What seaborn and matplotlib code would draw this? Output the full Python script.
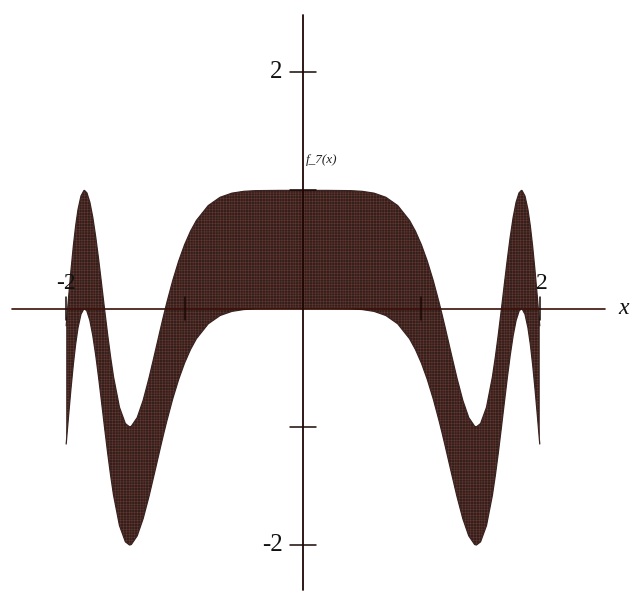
import matplotlib
matplotlib.use("Agg")
import matplotlib.pyplot as plt
import numpy as np
import pandas as pd
import seaborn as sns

# Right half of f_7 (the curve is symmetric about x = 0)
x_half = [0.0, 0.2, 0.4, 0.5, 0.6, 0.7, 0.8, 0.9, 0.95, 1.0, 1.05, 1.1, 1.15,
          1.175, 1.2, 1.25, 1.3, 1.35, 1.4, 1.45, 1.465, 1.5, 1.55, 1.6, 1.625,
          1.65, 1.675, 1.7, 1.725, 1.75, 1.775, 1.8, 1.825, 1.845, 1.85, 1.875,
          1.9, 1.92, 1.94, 1.96, 1.98, 2.0]
upper_half = [1.0, 1.0, 0.998, 0.9922, 0.9768, 0.9418, 0.8718, 0.7458, 0.6544,
              0.5403, 0.4015, 0.2375, 0.0499, -0.0514, -0.1566, -0.3731,
              -0.5861, -0.7768, -0.9220, -0.9957, -1.0, -0.9729, -0.8352,
              -0.5781, -0.4090, -0.2185, -0.0130, 0.1993, 0.4083, 0.6028,
              0.7707, 0.8999, 0.9791, 1.0, 0.9988, 0.9528, 0.8387, 0.7005,
              0.5249, 0.3188, 0.0915, -0.1455]
lower_half = [0.0, 0.0, -0.002, -0.0078, -0.0232, -0.0582, -0.1282, -0.2542,
              -0.3456, -0.4597, -0.5985, -0.7625, -0.9501, -1.0514, -1.1566,
              -1.3731, -1.5861, -1.7768, -1.9220, -1.9957, -2.0, -1.9729,
              -1.8352, -1.5781, -1.4090, -1.2185, -1.0130, -0.8007, -0.5917,
              -0.3972, -0.2293, -0.1001, -0.0209, 0.0, -0.0012, -0.0472,
              -0.1613, -0.2995, -0.4751, -0.6812, -0.9085, -1.1455]

tick_values = [-2, -1, 1, 2]
labelled_ticks = [-2, 2]
curve_label = "f_7(x)"
axis_label = "x"

# Mirror the half curve onto the full domain [-2, 2]
xh = np.array(x_half)
x_full = np.concatenate([-xh[::-1], xh[1:]])
up_full = np.concatenate([np.array(upper_half)[::-1], np.array(upper_half)[1:]])
lo_full = np.concatenate([np.array(lower_half)[::-1], np.array(lower_half)[1:]])
df = pd.DataFrame({"x": x_full, "upper": up_full, "lower": lo_full})

sns.set_theme(style="white")
plt.rcParams["font.family"] = ["Liberation Serif", "DejaVu Serif"]
plt.rcParams["hatch.linewidth"] = 0.25

fig = plt.figure(figsize=(6.32, 6.04), dpi=100)
ax = fig.add_axes([0, 0, 1, 1])
ax.set_xlim(-2.559, 2.779)
ax.set_ylim(-2.499, 2.611)
ax.axis("off")

band_face = "#33201d"
ax.fill_between(df["x"], df["lower"], df["upper"], facecolor=band_face,
                edgecolor="#7c4238", hatch="++++++", linewidth=0.0, zorder=1)
sns.lineplot(data=df, x="x", y="upper", ax=ax, color="#3a2320", lw=0.9,
             sort=False, zorder=2)
sns.lineplot(data=df, x="x", y="lower", ax=ax, color="#3a2320", lw=0.9,
             sort=False, zorder=2)

axis_color = "#3a1008"
ax.plot([-2.458, 2.551], [0, 0], color=axis_color, lw=1.2, zorder=3)
ax.plot([0, 0], [-2.381, 2.484], color="#1e0603", lw=1.3, zorder=3)

for t in tick_values:
    ax.plot([t, t], [-0.095, 0.095], color="#1a0804", lw=1.1, zorder=3)
    ax.plot([-0.11, 0.11], [t, t], color="#1a0804", lw=1.1, zorder=3)

for t in labelled_ticks:
    ax.text(-0.17, t, f"{t}", ha="right", va="center", fontsize=18,
            color="#111111", zorder=4)
    ax.text(t + (0.0 if t < 0 else 0.02), 0.12, f"{t}", ha="center",
            va="bottom", fontsize=17, color="#111111", zorder=4)

ax.text(2.71, 0.0, axis_label, ha="center", va="center", fontsize=17,
        style="italic", color="#111111", zorder=4)
ax.text(0.02, 1.26, curve_label, ha="left", va="center", fontsize=9.5,
        style="italic", color="#222222", zorder=4)

fig.savefig("out.png", dpi=100)
